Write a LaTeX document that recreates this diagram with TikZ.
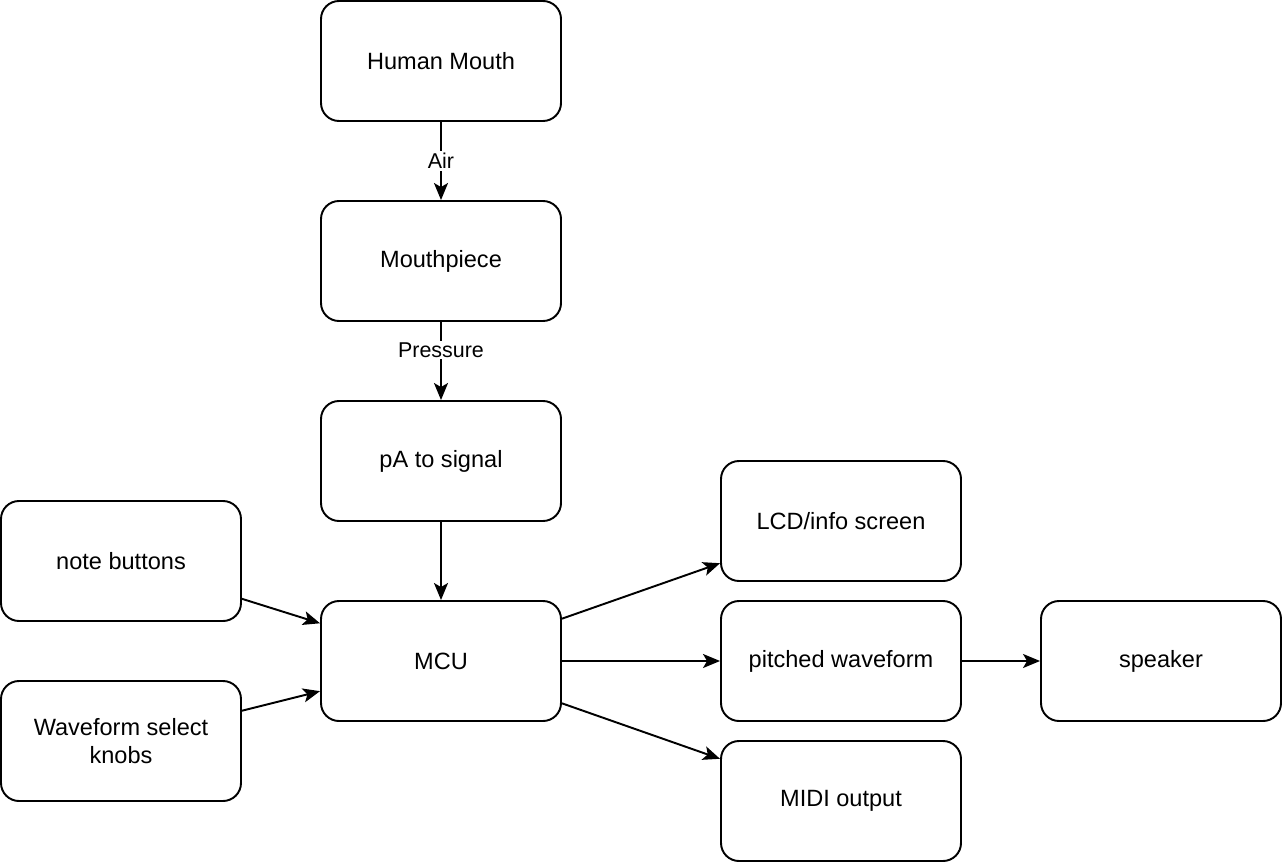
\documentclass[tikz,border=0pt]{standalone}
\usepackage{fontspec}
\setmainfont{Liberation Sans}
\usepackage{tikz}
\usetikzlibrary{calc,positioning,arrows,arrows.meta,shapes}
\tikzset{
  block/.style={
      draw,
      rounded corners=0.36cm,
      line width=1.1pt,
      minimum width=4.8cm,
      minimum height=2.4cm,
      align=center,
      fill=white,
      font=\fontsize{13.4}{16}\selectfont,
  },
  flow/.style={
      -{Stealth[length=0.34cm,width=0.28cm,inset=0.08cm]},
      line width=1.1pt,
  },
  flowlabel/.style={
      fill=white,
      inner sep=1pt,
      font=\fontsize{12.2}{14}\selectfont,
  },
}

\begin{document}
\begin{tikzpicture}
  \useasboundingbox (0,0) rectangle (25.64,-17.24);
  % chain down the middle
  \node(MOUTH) [block] at (8.82,-1.22) {Human Mouth};
  \node(MOUTHPIECE) [block] at (8.82,-5.22) {Mouthpiece};
  \node(SIGNAL) [block] at (8.82,-9.22) {pA to signal};
  \node(MCU) [block] at (8.82,-13.22) {MCU};
  % inputs
  \node(BUTTONS) [block] at (2.42,-11.22) {note buttons};
  \node(KNOBS) [block] at (2.42,-14.82) {Waveform select\\knobs};
  % outputs
  \node(LCD) [block] at (16.82,-10.42) {LCD/info screen};
  \node(WAVE) [block] at (16.82,-13.22) {pitched waveform};
  \node(MIDI) [block] at (16.82,-16.02) {MIDI output};
  \node(SPEAKER) [block] at (23.22,-13.22) {speaker};

  \draw[flow] (MOUTH) -- node(air)[flowlabel]{Air} (MOUTHPIECE);
  \draw[flow] (MOUTHPIECE) -- node(pressure)[flowlabel, pos=0.36]{Pressure} (SIGNAL);
  \path[flow]
  (SIGNAL)  edge (MCU)
  (BUTTONS) edge (MCU)
  (KNOBS)   edge (MCU)
  (MCU)     edge (LCD)
  (MCU)     edge (WAVE)
  (MCU)     edge (MIDI)
  (WAVE)    edge (SPEAKER)
  ;
\end{tikzpicture}
\end{document}
